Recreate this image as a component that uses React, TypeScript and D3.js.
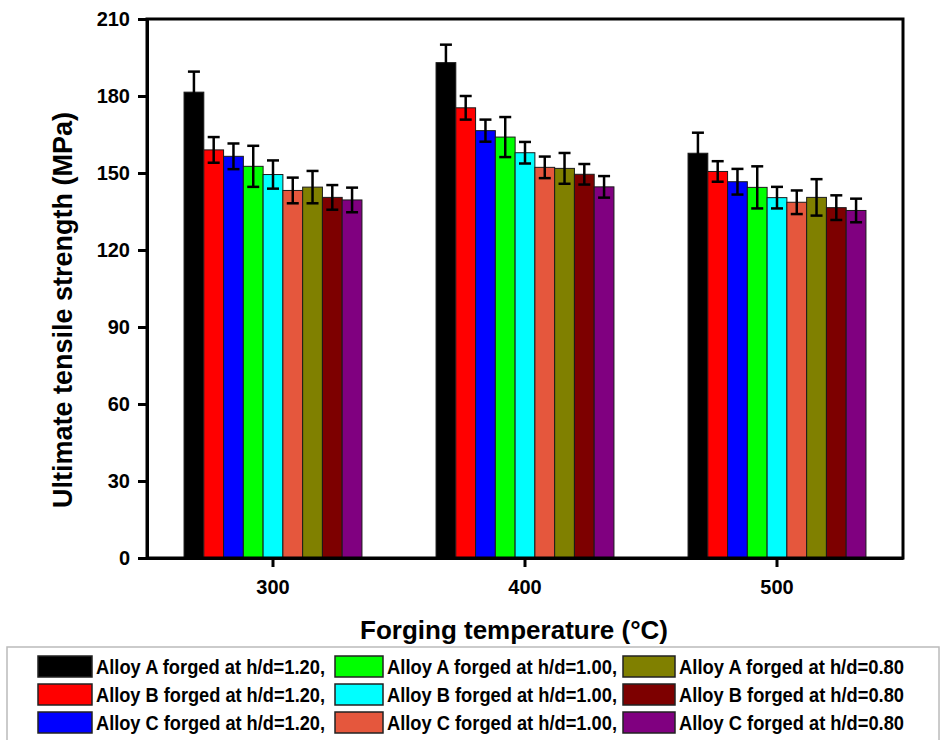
import { useEffect, useRef } from 'react';
import * as d3 from 'd3';

const temperatures = ['300', '400', '500'];
const seriesNames = [
  'Alloy A forged at h/d=1.20,',
  'Alloy B forged at h/d=1.20,',
  'Alloy C forged at h/d=1.20,',
  'Alloy A forged at h/d=1.00,',
  'Alloy B forged at h/d=1.00,',
  'Alloy C forged at h/d=1.00,',
  'Alloy A forged at h/d=0.80',
  'Alloy B forged at h/d=0.80',
  'Alloy C forged at h/d=0.80',
];
const seriesColors = ['#000000', '#ff0000', '#0000ff', '#00ff00', '#00ffff', '#e5573d', '#808000', '#7d0000', '#800080'];

// values per series, one per temperature (300, 400, 500)
const meanValues = [
  [181.5, 193, 157.7],
  [159, 175.4, 150.6],
  [156.5, 166.5, 146.6],
  [152.6, 164, 144.4],
  [149.4, 157.9, 140.4],
  [143.2, 152.2, 138.6],
  [144.5, 151.8, 140.5],
  [140.5, 149.5, 136.5],
  [139.5, 144.6, 135.4],
];
const errorValues = [
  [8, 7, 8],
  [5, 4.6, 4],
  [5, 4.3, 5],
  [8, 7.8, 8.2],
  [5.5, 4.2, 4.2],
  [5, 4.2, 4.6],
  [6.3, 6, 7.1],
  [4.8, 4, 4.8],
  [4.8, 4.2, 4.6],
];
const yTicks = [0, 30, 60, 90, 120, 150, 180, 210];

const WIDTH = 948;
const HEIGHT = 740;
const margin = { left: 147, top: 19, right: 45, bottom: 182 };
const FONT = '"Liberation Sans", Arial, sans-serif';

function App() {
  const svgRef = useRef<SVGSVGElement>(null);

  useEffect(() => {
    const svg = d3.select(svgRef.current);
    svg.selectAll('*').remove();

    const x0 = margin.left;
    const x1 = WIDTH - margin.right;
    const y0 = HEIGHT - margin.bottom;
    const y1 = margin.top;

    const x = d3.scaleBand()
      .domain(temperatures)
      .range([x0, x1])
      .paddingInner(0.294)
      .paddingOuter(0.147);

    const xInner = d3.scaleBand()
      .domain(seriesNames)
      .range([0, x.bandwidth()]);

    const y = d3.scaleLinear().domain([0, 210]).range([y0, y1]);

    // bars
    const g = svg.append('g');
    seriesNames.forEach((name, si) => {
      temperatures.forEach((t, ti) => {
        const bx = x(t)! + xInner(name)!;
        const v = meanValues[si][ti];
        g.append('rect')
          .attr('x', bx)
          .attr('y', y(v))
          .attr('width', xInner.bandwidth())
          .attr('height', y(0) - y(v))
          .attr('fill', seriesColors[si])
          .attr('stroke', '#1a1a1a')
          .attr('stroke-width', 1);
      });
    });

    // error bars
    seriesNames.forEach((name, si) => {
      temperatures.forEach((t, ti) => {
        const cx = x(t)! + xInner(name)! + xInner.bandwidth() / 2;
        const v = meanValues[si][ti];
        const e = errorValues[si][ti];
        const cap = 6;
        const eg = g.append('g').attr('stroke', '#000').attr('stroke-width', 2.5);
        eg.append('line').attr('x1', cx).attr('x2', cx).attr('y1', y(v + e)).attr('y2', y(v - e));
        eg.append('line').attr('x1', cx - cap).attr('x2', cx + cap).attr('y1', y(v + e)).attr('y2', y(v + e));
        eg.append('line').attr('x1', cx - cap).attr('x2', cx + cap).attr('y1', y(v - e)).attr('y2', y(v - e));
      });
    });

    // frame
    svg.append('rect')
      .attr('x', x0)
      .attr('y', y1)
      .attr('width', x1 - x0)
      .attr('height', y0 - y1)
      .attr('fill', 'none')
      .attr('stroke', '#000')
      .attr('stroke-width', 3);

    // y axis
    const yAxis = svg.append('g')
      .attr('transform', `translate(${x0},0)`)
      .call(d3.axisLeft(y).tickValues(yTicks).tickSize(9).tickPadding(8));
    yAxis.select('.domain').attr('stroke-width', 3);
    yAxis.selectAll('.tick line').attr('stroke-width', 3);
    yAxis.selectAll('.tick text')
      .attr('font-family', FONT)
      .attr('font-weight', 'bold')
      .attr('font-size', 20)
      .attr('fill', '#000');

    // x axis
    const xAxis = svg.append('g')
      .attr('transform', `translate(0,${y0})`)
      .call(d3.axisBottom(x).tickSize(9).tickPadding(13).tickSizeOuter(0));
    xAxis.select('.domain').attr('stroke-width', 3);
    xAxis.selectAll('.tick line').attr('stroke-width', 3);
    xAxis.selectAll('.tick text')
      .attr('font-family', FONT)
      .attr('font-weight', 'bold')
      .attr('font-size', 20)
      .attr('fill', '#000');

    // axis titles
    svg.append('text')
      .attr('transform', `translate(72,310) rotate(-90)`)
      .attr('text-anchor', 'middle')
      .attr('font-family', FONT)
      .attr('font-weight', 'bold')
      .attr('font-size', 27)
      .text('Ultimate tensile strength (MPa)');

    svg.append('text')
      .attr('x', 514)
      .attr('y', 639)
      .attr('text-anchor', 'middle')
      .attr('font-family', FONT)
      .attr('font-weight', 'bold')
      .attr('font-size', 26)
      .text('Forging temperature (°C)');

    // legend
    svg.append('rect')
      .attr('x', 7)
      .attr('y', 647)
      .attr('width', 932)
      .attr('height', 100)
      .attr('fill', '#fff')
      .attr('stroke', '#bbb')
      .attr('stroke-width', 1.5);

    const colX = [38, 335, 623];
    const swatchW = [54, 48, 52];
    const textLen = [229, 230, 225];
    const rowY = [656, 684, 712];
    seriesNames.forEach((name, i) => {
      const col = Math.floor(i / 3);
      const row = i % 3;
      const lg = svg.append('g').attr('transform', `translate(${colX[col]},${rowY[row]})`);
      lg.append('rect')
        .attr('width', swatchW[col])
        .attr('height', 21)
        .attr('fill', seriesColors[i])
        .attr('stroke', '#222')
        .attr('stroke-width', 1.5);
      lg.append('text')
        .attr('x', swatchW[col] + 4)
        .attr('y', 18)
        .attr('font-family', FONT)
        .attr('font-weight', 'bold')
        .attr('font-size', 20)
        .attr('textLength', textLen[col])
        .attr('lengthAdjust', 'spacingAndGlyphs')
        .text(name);
    });
  }, []);

  return (
    <svg ref={svgRef} width={WIDTH} height={HEIGHT} style={{ display: 'block', position: 'absolute', left: 0, top: 0, background: '#fff' }} />
  );
}

export default App;
